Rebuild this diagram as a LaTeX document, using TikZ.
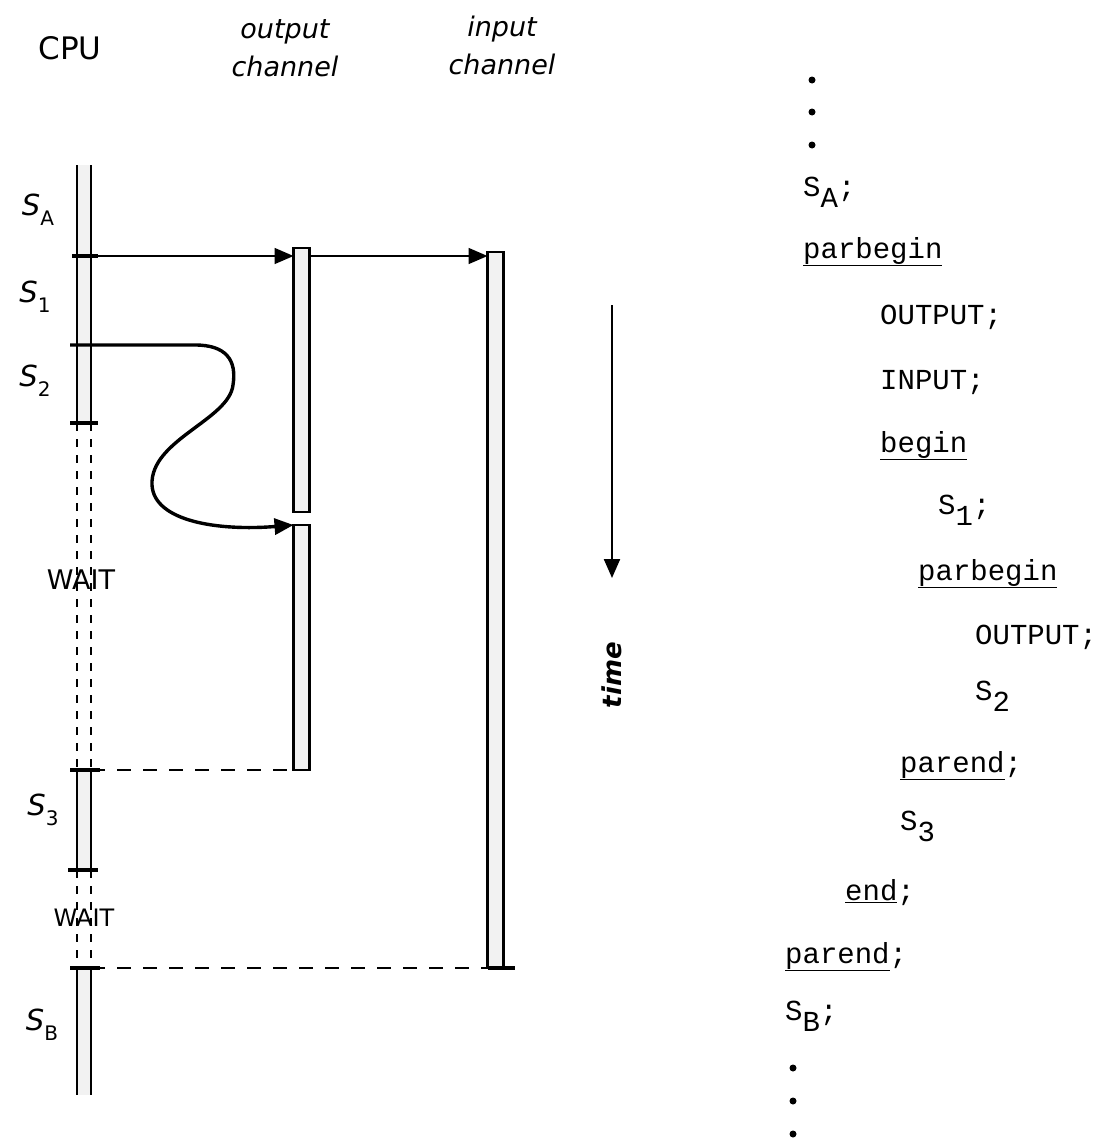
\documentclass[tikz,border=0pt]{standalone}
\usepackage{fontspec}
\setmainfont{Liberation Serif}
\setsansfont{DejaVu Sans}
\setmonofont{Liberation Mono}
\usetikzlibrary{arrows.meta,positioning}

\newcommand{\lowsub}[1]{\raisebox{-0.4em}{#1}}
\newcommand{\hsub}[2]{{\itshape #1}\raisebox{-0.35em}{\fontsize{20}{20}\selectfont #2}}

\tikzset{
  bar/.style={draw, line width=2.6pt, fill=gray!10, minimum width=16pt, inner sep=0pt, outer sep=0pt, anchor=north},
  cpubar/.style={fill=gray!10, minimum width=14pt, inner sep=0pt, outer sep=0pt, anchor=north},
  barcap/.style={line width=3.4pt},
  waitline/.style={line width=2.4pt, dash pattern=on 8pt off 8pt},
  syncline/.style={line width=2.4pt, dash pattern=on 14pt off 12pt},
  flow/.style={-{Triangle[length=19pt,width=16pt]}, line width=1.6pt},
  hand/.style={font=\sffamily\fontsize{27}{38}\selectfont, inner sep=0pt},
  code/.style={font=\ttfamily\fontsize{29}{30}\selectfont, anchor=base west, inner sep=0pt},
}

\begin{document}
\begin{tikzpicture}[x=1pt, y=-1pt]
\useasboundingbox (0,0) rectangle (1111,1143);

% headings
\node[hand, font=\sffamily\fontsize{31}{32}\selectfont] (cpulbl) at (70,48) {CPU};
\node[hand, align=center] (outlbl) at (285,48) {\itshape output\\ \itshape channel};
\node[hand, align=center] (inplbl) at (502,45) {\itshape input\\ \itshape channel};

% CPU segments
\node[cpubar, minimum height=258pt] (cpuA) at (84,165) {};
\node[cpubar, minimum height=100pt] (cpuB) at (84,770) {};
\node[cpubar, minimum height=127pt] (cpuC) at (84,968) {};
\foreach \s in {cpuA,cpuB,cpuC}{
  \draw[line width=2.6pt] (\s.north west) -- (\s.south west);
  \draw[line width=2.6pt] (\s.north east) -- (\s.south east);
}
\coordinate (cpuS1) at (72,256);
\coordinate (cpuS2) at (70,345);
\draw[barcap] (cpuS1) -- ++(26,0);
\draw[barcap] ([xshift=-7pt]cpuA.south west) -- ([xshift=7pt]cpuA.south east);
\draw[barcap] ([xshift=-7pt]cpuB.north west) -- ([xshift=9pt]cpuB.north east);
\draw[barcap] ([xshift=-9pt]cpuB.south west) -- ([xshift=7pt]cpuB.south east);
\draw[barcap] ([xshift=-7pt]cpuC.north west) -- ([xshift=9pt]cpuC.north east);

% CPU waiting
\draw[waitline] (cpuA.south west) -- (cpuB.north west);
\draw[waitline] (cpuA.south east) -- (cpuB.north east);
\draw[waitline] (cpuB.south west) -- (cpuC.north west);
\draw[waitline] (cpuB.south east) -- (cpuC.north east);
\node[hand, font=\sffamily\fontsize{27}{28}\selectfont] (wait1) at (81,580) {WAIT};
\node[hand, font=\sffamily\fontsize{24}{26}\selectfont] (wait2) at (84,918) {WAIT};

% statement labels
\node[hand, font=\sffamily\fontsize{29}{30}\selectfont] (sA) at (38,210) {\hsub{S}{A}};
\node[hand, font=\sffamily\fontsize{29}{30}\selectfont] (s1) at (35,297) {\hsub{S}{1}};
\node[hand, font=\sffamily\fontsize{29}{30}\selectfont] (s2) at (35,381) {\hsub{S}{2}};
\node[hand, font=\sffamily\fontsize{29}{30}\selectfont] (s3) at (43,810) {\hsub{S}{3}};
\node[hand, font=\sffamily\fontsize{29}{30}\selectfont] (sB) at (42,1025) {\hsub{S}{B}};

% channels
\node[bar, minimum height=264pt] (out1) at (301.5,248) {};
\node[bar, minimum height=245pt] (out2) at (301.5,525) {};
\node[bar, minimum height=716pt] (inp) at (495.5,252) {};
\draw[barcap] (inp.south west) -- ++(27,0);

% start of transfers
\draw[flow] (cpuS1) -- (cpuS1 -| out1.west);
\draw[flow] (out1.east |- cpuS1) -- (cpuS1 -| inp.west);
\draw[flow, line width=3.4pt] (cpuS2) -- (195,345)
  .. controls (226,345) and (237,360) .. (233,385)
  .. controls (229,420) and (150,440) .. (152,485)
  .. controls (154,522) and (220,531) .. (out2.north west);

% end of transfers
\draw[syncline] (cpuB.north east) -- (cpuB.north east -| out2.west);
\draw[syncline] (cpuC.north east) -- (cpuC.north east -| inp.west);

% time axis
\coordinate (tstart) at (612,305);
\coordinate (tend) at (612,578);
\draw[flow, line width=2.2pt] (tstart) -- (tend);
\node[hand, rotate=90, font=\sffamily\itshape\bfseries\fontsize{26}{28}\selectfont] (timelbl) at (612,675) {time};

% program text
\foreach \y in {80,112,145} \fill (812,\y) circle (3.5pt);
\node[code] (lA) at (803,196) {S\lowsub{A};};
\node[code] (l1) at (803,258) {\underline{parbegin}};
\node[code] (l2) at (880,324) {OUTPUT;};
\node[code] (l3) at (880,389) {INPUT;};
\node[code] (l4) at (880,452) {\underline{begin}};
\node[code] (l5) at (938,514) {S\lowsub{1};};
\node[code] (l6) at (918,580) {\underline{parbegin}};
\node[code] (l7) at (975,644) {OUTPUT;};
\node[code] (l8) at (975,700) {S\lowsub{2}};
\node[code] (l9) at (900,772) {\underline{parend};};
\node[code] (l10) at (900,830) {S\lowsub{3}};
\node[code] (l11) at (845,900) {\underline{end};};
\node[code] (l12) at (785,963) {\underline{parend};};
\node[code] (l13) at (785,1020) {S\lowsub{B};};
\foreach \y in {1068,1101,1134} \fill (793,\y) circle (3.5pt);
\end{tikzpicture}
\end{document}
